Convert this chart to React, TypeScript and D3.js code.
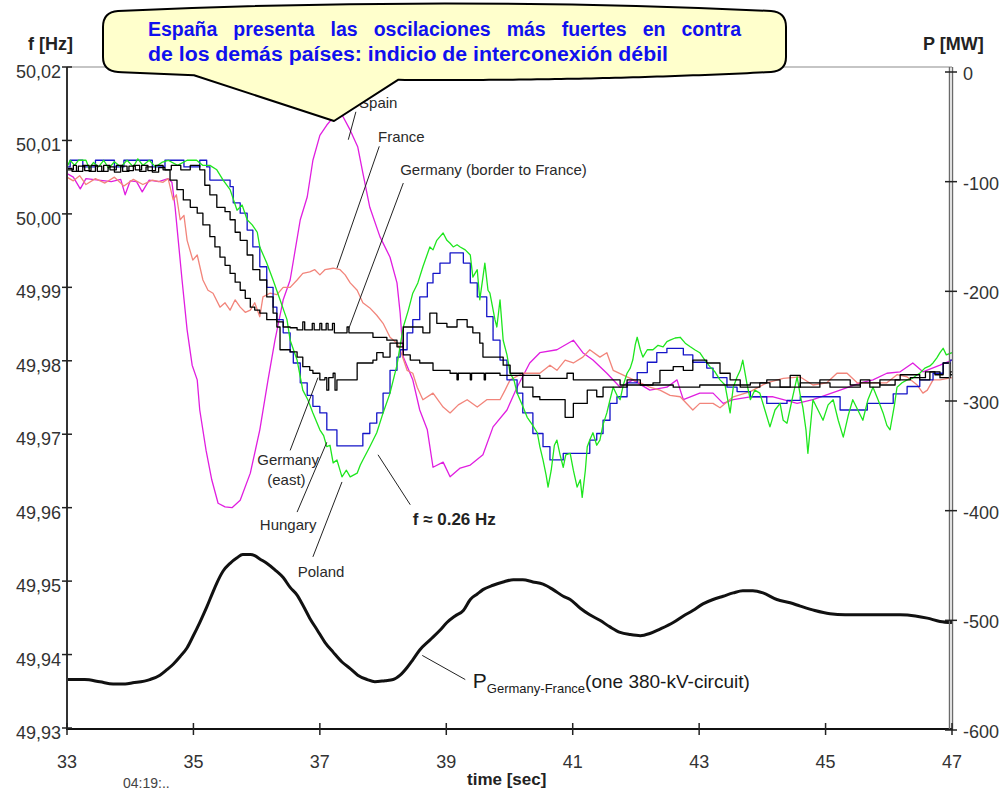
import React, { useEffect, useRef } from "react";
import * as d3 from "d3";

type Pt = [number, number];

const W = 1006;
const H = 796;

const timeTicks = [33, 35, 37, 39, 41, 43, 45, 47];
const freqTicks = [49.93, 49.94, 49.95, 49.96, 49.97, 49.98, 49.99, 50.0, 50.01, 50.02];
const powerTicks = [0, -100, -200, -300, -400, -500, -600];

// time [sec], f [Hz]
const spain: Pt[] = [
  [33.0, 50.0055], [33.1, 50.005], [33.21, 50.0034], [33.3, 50.0048], [33.5, 50.0046], [33.7, 50.0044],
  [33.85, 50.0047], [33.92, 50.0026], [34.0, 50.0045], [34.1, 50.0044], [34.19, 50.003], [34.3, 50.0046],
  [34.45, 50.0044], [34.6, 50.0048], [34.66, 50.0043], [34.71, 50.0009], [34.76, 49.9964], [34.82, 49.991],
  [34.9, 49.9842], [34.98, 49.9794], [35.06, 49.9774], [35.1, 49.9733], [35.2, 49.9678], [35.29, 49.9638],
  [35.39, 49.9606], [35.5, 49.9601], [35.61, 49.96], [35.74, 49.961], [35.9, 49.9647], [36.05, 49.9706],
  [36.18, 49.9774], [36.29, 49.9828], [36.42, 49.9883], [36.53, 49.991], [36.69, 49.9992], [36.8, 50.0023],
  [36.89, 50.0073], [37.0, 50.0107], [37.11, 50.0121], [37.21, 50.0131], [37.35, 50.0135], [37.48, 50.0114],
  [37.6, 50.0091], [37.68, 50.0056], [37.79, 50.0009], [37.95, 49.9969], [38.11, 49.9941], [38.22, 49.9906],
  [38.27, 49.9865], [38.32, 49.9805], [38.47, 49.9774], [38.58, 49.9733], [38.7, 49.9706], [38.79, 49.9655],
  [38.95, 49.9662], [39.06, 49.9642], [39.22, 49.9654], [39.38, 49.9658], [39.58, 49.9672], [39.74, 49.971],
  [39.96, 49.9733], [40.12, 49.9764], [40.32, 49.9797], [40.48, 49.9811], [40.75, 49.9815], [41.01, 49.9828],
  [41.16, 49.9811], [41.32, 49.9801], [41.54, 49.9783], [41.75, 49.9764], [41.95, 49.9774], [42.22, 49.976],
  [42.49, 49.9764], [42.65, 49.9774], [42.75, 49.9747], [43.01, 49.9756], [43.22, 49.9756], [43.38, 49.9742],
  [43.54, 49.9747], [43.81, 49.9751], [44.17, 49.9751], [44.55, 49.9742], [44.8, 49.9747], [45.23, 49.976],
  [45.55, 49.977], [45.75, 49.9774], [45.97, 49.9783], [46.18, 49.9785], [46.38, 49.9797], [46.54, 49.9785],
  [46.81, 49.9794], [47.0, 49.9801],
];

const france: Pt[] = [
  [33.0, 50.005], [33.1, 50.0045], [33.2, 50.0052], [33.3, 50.004], [33.45, 50.0048], [33.6, 50.0042],
  [33.75, 50.005], [33.9, 50.0038], [34.05, 50.0047], [34.2, 50.004], [34.35, 50.0046], [34.52, 50.0043],
  [34.6, 50.0048], [34.68, 50.0019], [34.73, 50.0026], [34.79, 49.9992], [34.85, 49.9998], [34.9, 49.9964],
  [34.99, 49.9937], [35.06, 49.9944], [35.15, 49.991], [35.23, 49.9896], [35.31, 49.9892], [35.42, 49.9873],
  [35.5, 49.9879], [35.58, 49.9869], [35.66, 49.9883], [35.74, 49.9873], [35.82, 49.9866], [35.9, 49.9869],
  [35.97, 49.9879], [36.05, 49.986], [36.1, 49.9887], [36.21, 49.9892], [36.32, 49.989], [36.42, 49.99],
  [36.53, 49.99], [36.64, 49.991], [36.73, 49.9919], [36.84, 49.9921], [36.92, 49.9924], [37.0, 49.9917],
  [37.08, 49.9924], [37.21, 49.9926], [37.32, 49.9924], [37.4, 49.9917], [37.48, 49.9906], [37.59, 49.9896],
  [37.68, 49.9879], [37.79, 49.9872], [37.9, 49.9862], [38.0, 49.9851], [38.11, 49.9832], [38.22, 49.9824],
  [38.27, 49.9815], [38.38, 49.9787], [38.47, 49.9783], [38.54, 49.9764], [38.63, 49.9747], [38.79, 49.9756],
  [38.95, 49.9737], [39.06, 49.9729], [39.19, 49.974], [39.33, 49.9747], [39.49, 49.9737], [39.64, 49.9747],
  [39.85, 49.9747], [39.93, 49.976], [40.01, 49.9774], [40.21, 49.9783], [40.48, 49.9783], [40.64, 49.9794],
  [40.75, 49.9787], [40.88, 49.9801], [41.01, 49.9797], [41.16, 49.9805], [41.27, 49.9815], [41.43, 49.9805],
  [41.54, 49.9811], [41.64, 49.9787], [41.86, 49.9778], [42.07, 49.977], [42.22, 49.9764], [42.38, 49.976],
  [42.54, 49.9753], [42.7, 49.9751], [42.9, 49.9733], [43.01, 49.9742], [43.22, 49.9742], [43.33, 49.9736],
  [43.54, 49.9751], [43.81, 49.9758], [44.07, 49.977], [44.33, 49.9776], [44.6, 49.9778], [44.8, 49.9767],
  [45.02, 49.977], [45.18, 49.9783], [45.34, 49.9783], [45.5, 49.977], [45.66, 49.977], [45.97, 49.977],
  [46.13, 49.9781], [46.29, 49.9778], [46.45, 49.9767], [46.54, 49.9756], [46.61, 49.976], [46.7, 49.9774],
  [46.81, 49.9774], [47.0, 49.9777],
];

const germanyBorder: Pt[] = [
  [33.0, 50.006], [33.1, 50.0066], [33.15, 50.0058], [33.25, 50.0066], [33.35, 50.0058], [33.45, 50.0065],
  [33.55, 50.0058], [33.65, 50.0064], [33.75, 50.0057], [33.85, 50.0065], [33.95, 50.0059], [34.05, 50.0066],
  [34.15, 50.0058], [34.25, 50.0064], [34.35, 50.0057], [34.45, 50.0063], [34.55, 50.006], [34.63, 50.0046],
  [34.74, 50.0033], [34.84, 50.0019], [34.95, 50.0009], [35.06, 50.0001], [35.15, 49.9985], [35.26, 49.9969],
  [35.34, 49.9955], [35.42, 49.9941], [35.5, 49.993], [35.58, 49.9919], [35.66, 49.9907], [35.74, 49.9896],
  [35.82, 49.9885], [35.9, 49.9873], [35.97, 49.9869], [36.05, 49.9865], [36.16, 49.9856], [36.32, 49.9853],
  [36.42, 49.9846], [36.53, 49.9845], [36.64, 49.9842], [36.73, 49.9853], [36.76, 49.9842], [36.88, 49.9851],
  [36.91, 49.9842], [37.0, 49.9851], [37.03, 49.9842], [37.1, 49.9851], [37.13, 49.9842], [37.2, 49.9851],
  [37.23, 49.9838], [37.43, 49.9846], [37.46, 49.9838], [37.84, 49.9832], [38.06, 49.9828], [38.22, 49.9824],
  [38.32, 49.9808], [38.43, 49.9801], [38.58, 49.9797], [38.79, 49.9787], [39.06, 49.9783], [39.17, 49.9774],
  [39.19, 49.9783], [39.38, 49.9774], [39.4, 49.9783], [39.6, 49.9774], [39.62, 49.9783], [39.85, 49.978],
  [40.48, 49.9776], [40.91, 49.9783], [41.01, 49.9774], [41.75, 49.9767], [42.59, 49.9764], [43.01, 49.9767],
  [43.65, 49.9764], [43.96, 49.977], [44.07, 49.9774], [44.28, 49.9764], [44.44, 49.978], [44.6, 49.9764],
  [44.91, 49.9774], [45.39, 49.9767], [45.55, 49.9774], [45.7, 49.9764], [45.86, 49.9774], [46.18, 49.9781],
  [46.49, 49.9774], [46.65, 49.9785], [46.81, 49.9777], [46.97, 49.9785], [47.0, 49.9785],
];

const germanyEast: Pt[] = [
  [33.0, 50.0062], [33.08, 50.0058], [33.18, 50.0065], [33.28, 50.0059], [33.38, 50.0066], [33.48, 50.0058],
  [33.58, 50.0066], [33.68, 50.006], [33.78, 50.0066], [33.88, 50.0058], [33.98, 50.0065], [34.08, 50.006],
  [34.18, 50.0066], [34.28, 50.0059], [34.4, 50.0066], [34.52, 50.006], [34.65, 50.0066], [34.8, 50.006],
  [34.95, 50.0066], [35.1, 50.006], [35.18, 50.0039], [35.26, 50.0026], [35.37, 50.0009], [35.5, 50.0003],
  [35.58, 49.9992], [35.66, 49.9975], [35.74, 49.9964], [35.85, 49.9944], [35.94, 49.9924], [36.05, 49.991],
  [36.16, 49.9887], [36.26, 49.9865], [36.32, 49.9846], [36.37, 49.9815], [36.53, 49.9812], [36.64, 49.9805],
  [36.73, 49.9792], [36.84, 49.9787], [36.89, 49.9783], [37.0, 49.9774], [37.08, 49.9777], [37.11, 49.976],
  [37.14, 49.9777], [37.21, 49.9783], [37.24, 49.976], [37.27, 49.9774], [37.52, 49.9774], [37.59, 49.9797],
  [37.84, 49.9801], [37.9, 49.9811], [38.0, 49.9805], [38.11, 49.9824], [38.22, 49.9819], [38.32, 49.9846],
  [38.63, 49.9838], [38.74, 49.9865], [38.85, 49.9851], [39.01, 49.9846], [39.17, 49.9856], [39.33, 49.9846],
  [39.42, 49.9838], [39.53, 49.9824], [39.58, 49.9805], [39.9, 49.9794], [40.01, 49.9783], [40.21, 49.9764],
  [40.37, 49.9751], [40.48, 49.9747], [40.88, 49.9723], [41.01, 49.9742], [41.23, 49.976], [41.38, 49.9751],
  [41.48, 49.9764], [41.86, 49.9774], [42.07, 49.9767], [42.27, 49.977], [42.38, 49.9787], [42.59, 49.9792],
  [42.75, 49.9787], [42.9, 49.9801], [43.12, 49.9797], [43.33, 49.9783], [43.49, 49.9774], [43.65, 49.9767],
  [43.81, 49.977], [44.12, 49.9764], [44.6, 49.977], [45.07, 49.9764], [45.55, 49.977], [45.86, 49.9767],
  [46.1, 49.9774], [46.34, 49.9777], [46.58, 49.9785], [46.73, 49.9781], [46.86, 49.9797], [46.97, 49.9781],
  [47.0, 49.9781],
];

const hungary: Pt[] = [
  [33.0, 50.0064], [33.05, 50.0073], [33.2, 50.0073], [33.25, 50.0064], [33.4, 50.0064], [33.45, 50.0073],
  [33.7, 50.0073], [33.75, 50.0064], [33.85, 50.0064], [33.9, 50.0073], [34.3, 50.0073], [34.35, 50.0064],
  [34.5, 50.0064], [34.55, 50.0073], [34.8, 50.0073], [34.85, 50.0064], [35.05, 50.0064], [35.1, 50.0073],
  [35.21, 50.0064], [35.26, 50.0046], [35.58, 50.0037], [35.63, 50.0015], [35.74, 50.0001], [35.85, 49.9978],
  [35.94, 49.9955], [36.05, 49.9928], [36.16, 49.99], [36.26, 49.9873], [36.32, 49.9856], [36.42, 49.9838],
  [36.53, 49.9812], [36.58, 49.9797], [36.69, 49.977], [36.8, 49.9753], [36.89, 49.9738], [37.0, 49.9729],
  [37.11, 49.9706], [37.27, 49.9684], [37.59, 49.9684], [37.68, 49.9701], [37.79, 49.9715], [37.9, 49.9729],
  [38.0, 49.9756], [38.11, 49.9787], [38.22, 49.9805], [38.27, 49.9815], [38.38, 49.9838], [38.47, 49.9856],
  [38.58, 49.9887], [38.7, 49.9906], [38.79, 49.9919], [38.9, 49.9933], [39.06, 49.9947], [39.17, 49.9947],
  [39.27, 49.9933], [39.38, 49.9906], [39.49, 49.9887], [39.64, 49.986], [39.74, 49.9828], [39.85, 49.9801],
  [39.96, 49.9774], [40.12, 49.9756], [40.21, 49.9729], [40.37, 49.9701], [40.53, 49.9683], [40.64, 49.9665],
  [40.85, 49.9674], [41.12, 49.9674], [41.27, 49.9692], [41.38, 49.9701], [41.48, 49.9719], [41.59, 49.9742],
  [41.7, 49.9751], [41.86, 49.977], [42.02, 49.9784], [42.18, 49.9798], [42.33, 49.9811], [42.49, 49.9817],
  [42.65, 49.9817], [42.75, 49.9808], [42.9, 49.9798], [43.12, 49.979], [43.22, 49.9777], [43.44, 49.9764],
  [43.6, 49.9758], [43.81, 49.9751], [44.07, 49.9742], [44.39, 49.9746], [44.6, 49.9751], [45.12, 49.9751],
  [45.23, 49.9733], [45.55, 49.9733], [45.66, 49.9742], [45.97, 49.9742], [46.07, 49.9755], [46.29, 49.9765],
  [46.49, 49.9774], [46.7, 49.9783], [46.86, 49.9797], [46.97, 49.9801], [47.0, 49.9801],
];

const poland: Pt[] = [
  [33.0, 50.0064], [33.05, 50.0073], [33.12, 50.0066], [33.18, 50.0073], [33.3, 50.0073], [33.35, 50.0062],
  [33.42, 50.007], [33.5, 50.0064], [33.58, 50.0073], [33.66, 50.0062], [33.75, 50.0071], [33.85, 50.0064],
  [33.95, 50.0073], [34.05, 50.0064], [34.12, 50.0075], [34.2, 50.0066], [34.3, 50.0073], [34.4, 50.0064],
  [34.5, 50.007], [34.6, 50.0073], [34.75, 50.0066], [34.9, 50.0073], [35.05, 50.0073], [35.15, 50.0066],
  [35.26, 50.0066], [35.37, 50.006], [35.47, 50.0046], [35.58, 50.0033], [35.69, 50.0005], [35.77, 50.0012],
  [35.85, 49.9992], [35.93, 49.9985], [36.01, 49.9975], [36.05, 49.9955], [36.16, 49.9933], [36.26, 49.991],
  [36.37, 49.9883], [36.48, 49.9856], [36.53, 49.9828], [36.64, 49.9801], [36.73, 49.976], [36.81, 49.9747],
  [36.89, 49.9729], [37.0, 49.9706], [37.06, 49.9698], [37.11, 49.9683], [37.16, 49.9685], [37.21, 49.9661],
  [37.27, 49.9665], [37.35, 49.9642], [37.42, 49.9651], [37.48, 49.9642], [37.59, 49.9647], [37.64, 49.9658],
  [37.68, 49.9665], [37.79, 49.9683], [37.9, 49.9702], [38.0, 49.9729], [38.11, 49.9756], [38.22, 49.9794],
  [38.32, 49.9846], [38.4, 49.9869], [38.47, 49.9892], [38.55, 49.9906], [38.63, 49.9928], [38.74, 49.9955],
  [38.79, 49.9951], [38.85, 49.9964], [38.9, 49.9969], [38.95, 49.9974], [39.01, 49.9964], [39.06, 49.996],
  [39.11, 49.9955], [39.17, 49.9958], [39.22, 49.9955], [39.3, 49.9951], [39.38, 49.9944], [39.42, 49.9914],
  [39.49, 49.9924], [39.53, 49.9883], [39.58, 49.9914], [39.61, 49.9933], [39.66, 49.9896], [39.69, 49.9892],
  [39.77, 49.9856], [39.8, 49.9846], [39.85, 49.9883], [39.9, 49.9828], [39.96, 49.9808], [40.01, 49.9783],
  [40.07, 49.9774], [40.12, 49.9756], [40.2, 49.974], [40.28, 49.9723], [40.36, 49.9713], [40.44, 49.9702],
  [40.48, 49.9683], [40.53, 49.9665], [40.58, 49.9644], [40.61, 49.9628], [40.66, 49.9651], [40.71, 49.9685],
  [40.75, 49.9692], [40.8, 49.9672], [40.85, 49.9655], [40.89, 49.9672], [40.96, 49.9674], [41.01, 49.9651],
  [41.07, 49.9628], [41.12, 49.9638], [41.15, 49.9614], [41.2, 49.9651], [41.23, 49.9683], [41.27, 49.9692],
  [41.32, 49.9702], [41.38, 49.9685], [41.43, 49.9692], [41.48, 49.9713], [41.54, 49.9729], [41.59, 49.9747],
  [41.64, 49.9764], [41.7, 49.9753], [41.75, 49.9747], [41.8, 49.9767], [41.86, 49.9783], [41.91, 49.979],
  [41.95, 49.9801], [41.99, 49.9822], [42.02, 49.9832], [42.07, 49.9815], [42.11, 49.9805], [42.18, 49.9815],
  [42.27, 49.9815], [42.35, 49.9821], [42.43, 49.9819], [42.49, 49.9826], [42.54, 49.9828], [42.62, 49.9831],
  [42.7, 49.9832], [42.78, 49.9824], [42.86, 49.9819], [42.93, 49.9815], [43.01, 49.9811], [43.09, 49.9801],
  [43.17, 49.9792], [43.25, 49.9785], [43.33, 49.9774], [43.41, 49.9767], [43.49, 49.9729], [43.54, 49.9764],
  [43.6, 49.9778], [43.65, 49.9787], [43.69, 49.9801], [43.76, 49.9767], [43.81, 49.9747], [43.88, 49.976],
  [43.96, 49.9756], [44.04, 49.9733], [44.12, 49.971], [44.2, 49.9733], [44.28, 49.9742], [44.33, 49.9719],
  [44.39, 49.9715], [44.47, 49.9747], [44.55, 49.9778], [44.6, 49.9753], [44.64, 49.9737], [44.69, 49.9706],
  [44.72, 49.9674], [44.77, 49.9719], [44.8, 49.9747], [44.88, 49.9733], [44.96, 49.9719], [45.04, 49.974],
  [45.12, 49.9747], [45.2, 49.9719], [45.28, 49.9696], [45.36, 49.9726], [45.43, 49.9747], [45.51, 49.9733],
  [45.59, 49.9719], [45.67, 49.9747], [45.75, 49.9764], [45.83, 49.9747], [45.91, 49.9729], [45.97, 49.9712],
  [46.02, 49.9706], [46.09, 49.974], [46.13, 49.9764], [46.21, 49.977], [46.29, 49.9774], [46.37, 49.9776],
  [46.45, 49.9781], [46.49, 49.9783], [46.57, 49.979], [46.65, 49.9793], [46.7, 49.9797], [46.76, 49.9804],
  [46.81, 49.9811], [46.86, 49.9817], [46.91, 49.9808], [47.0, 49.9811],
];

// time [sec], P [MW]
const powerGermanyFrance: Pt[] = [
  [33.0, -554], [33.28, -554], [33.52, -556], [33.73, -558], [33.92, -558], [34.04, -557], [34.31, -554],
  [34.47, -550], [34.58, -545], [34.68, -540], [34.79, -533], [34.9, -525], [34.99, -515], [35.1, -502],
  [35.21, -488], [35.31, -474], [35.37, -466], [35.47, -455], [35.58, -448], [35.69, -443], [35.78, -440],
  [35.9, -440], [35.97, -441], [36.05, -444], [36.16, -448], [36.29, -454], [36.42, -461], [36.53, -470],
  [36.64, -477], [36.73, -486], [36.84, -498], [36.96, -509], [37.08, -520], [37.21, -529], [37.35, -538],
  [37.48, -544], [37.6, -550], [37.75, -554], [37.87, -556], [38.03, -555], [38.16, -554], [38.27, -550],
  [38.38, -543], [38.47, -536], [38.58, -527], [38.74, -518], [38.9, -509], [39.01, -502], [39.14, -496],
  [39.27, -491], [39.38, -481], [39.49, -476], [39.58, -472], [39.74, -468], [39.9, -465], [40.06, -463],
  [40.21, -463], [40.37, -465], [40.53, -467], [40.69, -472], [40.85, -478], [40.96, -481], [41.12, -489],
  [41.27, -495], [41.43, -500], [41.59, -506], [41.75, -511], [41.91, -513], [42.07, -514], [42.22, -512],
  [42.38, -508], [42.59, -502], [42.75, -496], [42.9, -491], [43.06, -485], [43.22, -481], [43.38, -478],
  [43.54, -475], [43.69, -473], [43.85, -473], [44.01, -475], [44.23, -481], [44.44, -484], [44.6, -487],
  [44.83, -491], [45.07, -494], [45.31, -495], [45.55, -495], [45.86, -495], [46.18, -495], [46.42, -496],
  [46.61, -498], [46.81, -501], [47.0, -502],
];

const calloutLine1 = "España presenta las oscilaciones más fuertes en contra";
const calloutLine2 = "de los demás países: indicio de interconexión débil";

// annotation anchors in data units: [time, Hz]
const seriesLabels = [
  { text: ["Spain"], at: [37.62, 50.0144], from: [37.57, 50.0139], to: [37.45, 50.0101] },
  { text: ["France"], at: [37.92, 50.0098], from: [37.94, 50.0092], to: [37.27, 49.9926] },
  { text: ["Germany (border to France)"], at: [38.27, 50.0053], from: [38.32, 50.0042], to: [37.45, 49.9842] },
  { text: ["Germany", "(east)"], at: [36.01, 49.9658], from: [36.53, 49.9678], to: [36.97, 49.9777] },
  { text: ["Hungary"], at: [36.05, 49.957], from: [36.64, 49.9594], to: [37.11, 49.9689] },
  { text: ["Poland"], at: [36.65, 49.9506], from: [36.89, 49.9533], to: [37.35, 49.9635] },
];

export default function App() {
  const ref = useRef<SVGSVGElement>(null);

  useEffect(() => {
    document.body.style.margin = "0";
    const FONT = "'Liberation Sans', Arial, Helvetica, sans-serif";
    const svg = d3.select(ref.current as SVGSVGElement);
    svg.selectAll("*").remove();

    const x = d3.scaleLinear().domain([33, 47]).range([67, 952]);
    const y = d3.scaleLinear().domain([49.93, 50.02]).range([728, 67]);
    const yP = d3.scaleLinear().domain([-600, 0]).range([730, 72]);

    svg.append("rect").attr("width", W).attr("height", H).attr("fill", "#fff");

    svg.append("defs").append("clipPath").attr("id", "plotClip")
      .append("rect").attr("x", 67).attr("y", 66).attr("width", 885).attr("height", 663);

    // top frame line
    svg.append("line").attr("x1", 67).attr("x2", 952).attr("y1", 67).attr("y2", 67)
      .attr("stroke", "#8c8c8c").attr("stroke-width", 1.2);

    const plot = svg.append("g").attr("clip-path", "url(#plotClip)");
    const series = [
      { data: spain, color: "#e01ee0", curve: d3.curveLinear },
      { data: france, color: "#f2857b", curve: d3.curveLinear },
      { data: hungary, color: "#1414c8", curve: d3.curveStepAfter },
      { data: poland, color: "#1ee61e", curve: d3.curveLinear },
      { data: germanyBorder, color: "#000000", curve: d3.curveStepAfter },
      { data: germanyEast, color: "#000000", curve: d3.curveStepAfter },
    ];
    series.forEach((s) => {
      const ln = d3.line<Pt>().x((d) => x(d[0])).y((d) => y(d[1])).curve(s.curve);
      plot.append("path").attr("d", ln(s.data) as string).attr("fill", "none")
        .attr("stroke", s.color).attr("stroke-width", 1.3).attr("stroke-linejoin", "round");
    });
    const pLine = d3.line<Pt>().x((d) => x(d[0])).y((d) => yP(d[1])).curve(d3.curveMonotoneX);
    plot.append("path").attr("d", pLine(powerGermanyFrance) as string).attr("fill", "none")
      .attr("stroke", "#111").attr("stroke-width", 3).attr("stroke-linejoin", "round");

    // axes lines
    svg.append("line").attr("x1", 67).attr("x2", 67).attr("y1", 67).attr("y2", 729)
      .attr("stroke", "#333").attr("stroke-width", 2);
    svg.append("line").attr("x1", 66).attr("x2", 953).attr("y1", 729).attr("y2", 729)
      .attr("stroke", "#111").attr("stroke-width", 2);
    [949.5, 952.5].forEach((xx) =>
      svg.append("line").attr("x1", xx).attr("x2", xx).attr("y1", 67).attr("y2", 729)
        .attr("stroke", "#6a6a6a").attr("stroke-width", 1.4));

    const tickColor = "#222";
    const labelColor = "#333";
    // left ticks
    freqTicks.forEach((v) => {
      svg.append("line").attr("x1", 62).attr("x2", 72).attr("y1", y(v)).attr("y2", y(v))
        .attr("stroke", tickColor).attr("stroke-width", 1.5);
      svg.append("text").attr("x", 61).attr("y", y(v) + 11).attr("text-anchor", "end")
        .attr("font-family", FONT).attr("font-size", 18).attr("fill", labelColor)
        .text(d3.format(".2f")(v).replace(".", ","));
    });
    // right ticks
    powerTicks.forEach((v) => {
      svg.append("line").attr("x1", 945).attr("x2", 957).attr("y1", yP(v)).attr("y2", yP(v))
        .attr("stroke", tickColor).attr("stroke-width", 1.5);
      svg.append("text").attr("x", 963).attr("y", yP(v) + 8)
        .attr("font-family", FONT).attr("font-size", 18).attr("fill", labelColor)
        .text(String(v));
    });
    // bottom ticks
    timeTicks.forEach((v) => {
      svg.append("line").attr("x1", x(v)).attr("x2", x(v)).attr("y1", 723).attr("y2", 735)
        .attr("stroke", tickColor).attr("stroke-width", 1.5);
      svg.append("text").attr("x", x(v)).attr("y", 768).attr("text-anchor", "middle")
        .attr("font-family", FONT).attr("font-size", 18).attr("fill", labelColor)
        .text(String(v));
    });

    // axis titles
    svg.append("text").attr("x", 28).attr("y", 50).attr("font-family", FONT).attr("font-size", 18)
      .attr("font-weight", "bold").attr("fill", "#222").text("f [Hz]");
    svg.append("text").attr("x", 923).attr("y", 50).attr("font-family", FONT).attr("font-size", 18)
      .attr("font-weight", "bold").attr("fill", "#222").text("P [MW]");
    svg.append("text").attr("x", 467).attr("y", 785).attr("font-family", FONT).attr("font-size", 17)
      .attr("font-weight", "bold").attr("fill", "#222").text("time [sec]");
    svg.append("text").attr("x", 123).attr("y", 788).attr("font-family", FONT).attr("font-size", 14)
      .attr("fill", "#444").text("04:19:..");

    // series labels with leader lines
    seriesLabels.forEach((l) => {
      svg.append("line").attr("x1", x(l.from[0])).attr("y1", y(l.from[1]))
        .attr("x2", x(l.to[0])).attr("y2", y(l.to[1])).attr("stroke", "#222").attr("stroke-width", 1);
      const t = svg.append("text").attr("font-family", FONT).attr("font-size", 15).attr("fill", "#2a2a2a");
      l.text.forEach((s, i) => {
        t.append("tspan").attr("x", x(l.at[0]) + (i === 1 ? 10 : 0)).attr("y", y(l.at[1]) + i * 20).text(s);
      });
    });

    // frequency annotation
    svg.append("line").attr("x1", x(37.92)).attr("y1", y(49.9672)).attr("x2", x(38.43)).attr("y2", y(49.9604))
      .attr("stroke", "#222").attr("stroke-width", 1);
    svg.append("text").attr("x", x(38.47)).attr("y", y(49.9576)).attr("font-family", FONT)
      .attr("font-size", 17).attr("font-weight", "bold").attr("fill", "#222").text("f ≈ 0.26 Hz");

    // power annotation
    svg.append("line").attr("x1", x(38.62)).attr("y1", yP(-532)).attr("x2", x(39.3)).attr("y2", yP(-554))
      .attr("stroke", "#222").attr("stroke-width", 1);
    const pt = svg.append("text").attr("x", x(39.42)).attr("y", yP(-562)).attr("font-family", FONT)
      .attr("fill", "#1a1a1a").attr("font-size", 19);
    pt.append("tspan").attr("font-size", 21).text("P");
    pt.append("tspan").attr("font-size", 13).attr("dy", 5).text("Germany-France");
    pt.append("tspan").attr("dy", -5).text("(one 380-kV-circuit)");

    // callout
    const bot = (xx: number) => {
      const t = (771 - xx) / 653;
      return 72 + 32 * t * (1 - t);
    };
    let p = "M118,11 Q444.5,-4 771,11 Q786,12 786,27 L786,57 Q786,71 771,72";
    for (let xx = 765; xx > 398; xx -= 6) p += ` L${xx},${bot(xx).toFixed(2)}`;
    p += ` L398,${bot(398).toFixed(2)} L334,121 L194,${bot(194).toFixed(2)}`;
    for (let xx = 188; xx > 118; xx -= 6) p += ` L${xx},${bot(xx).toFixed(2)}`;
    p += " L118,72 Q103,71 103,57 L103,27 Q103,12 118,11 Z";
    svg.append("path").attr("d", p).attr("fill", "#ffffcc").attr("stroke", "#000").attr("stroke-width", 2)
      .attr("stroke-linejoin", "round");

    const blue = "#1010ee";
    const CS = 19.5;
    const words = calloutLine1.split(" ");
    const tmp = svg.append("text").attr("font-family", FONT).attr("font-size", CS).attr("font-weight", "bold");
    const widths = words.map((w) => {
      tmp.text(w);
      return (tmp.node() as SVGTextElement).getComputedTextLength();
    });
    tmp.remove();
    const gap = (741 - 148 - d3.sum(widths)) / (words.length - 1);
    let cx = 148;
    words.forEach((w, i) => {
      svg.append("text").attr("x", cx).attr("y", 36).attr("font-family", FONT).attr("font-size", CS)
        .attr("font-weight", "bold").attr("fill", blue).text(w);
      cx += widths[i] + gap;
    });
    svg.append("text").attr("x", 148).attr("y", 61).attr("font-family", FONT).attr("font-size", CS)
      .attr("font-weight", "bold").attr("fill", blue).attr("textLength", 520)
      .attr("lengthAdjust", "spacingAndGlyphs").text(calloutLine2);
  }, []);

  return <svg ref={ref} width={W} height={H} style={{ display: "block" }} />;
}
